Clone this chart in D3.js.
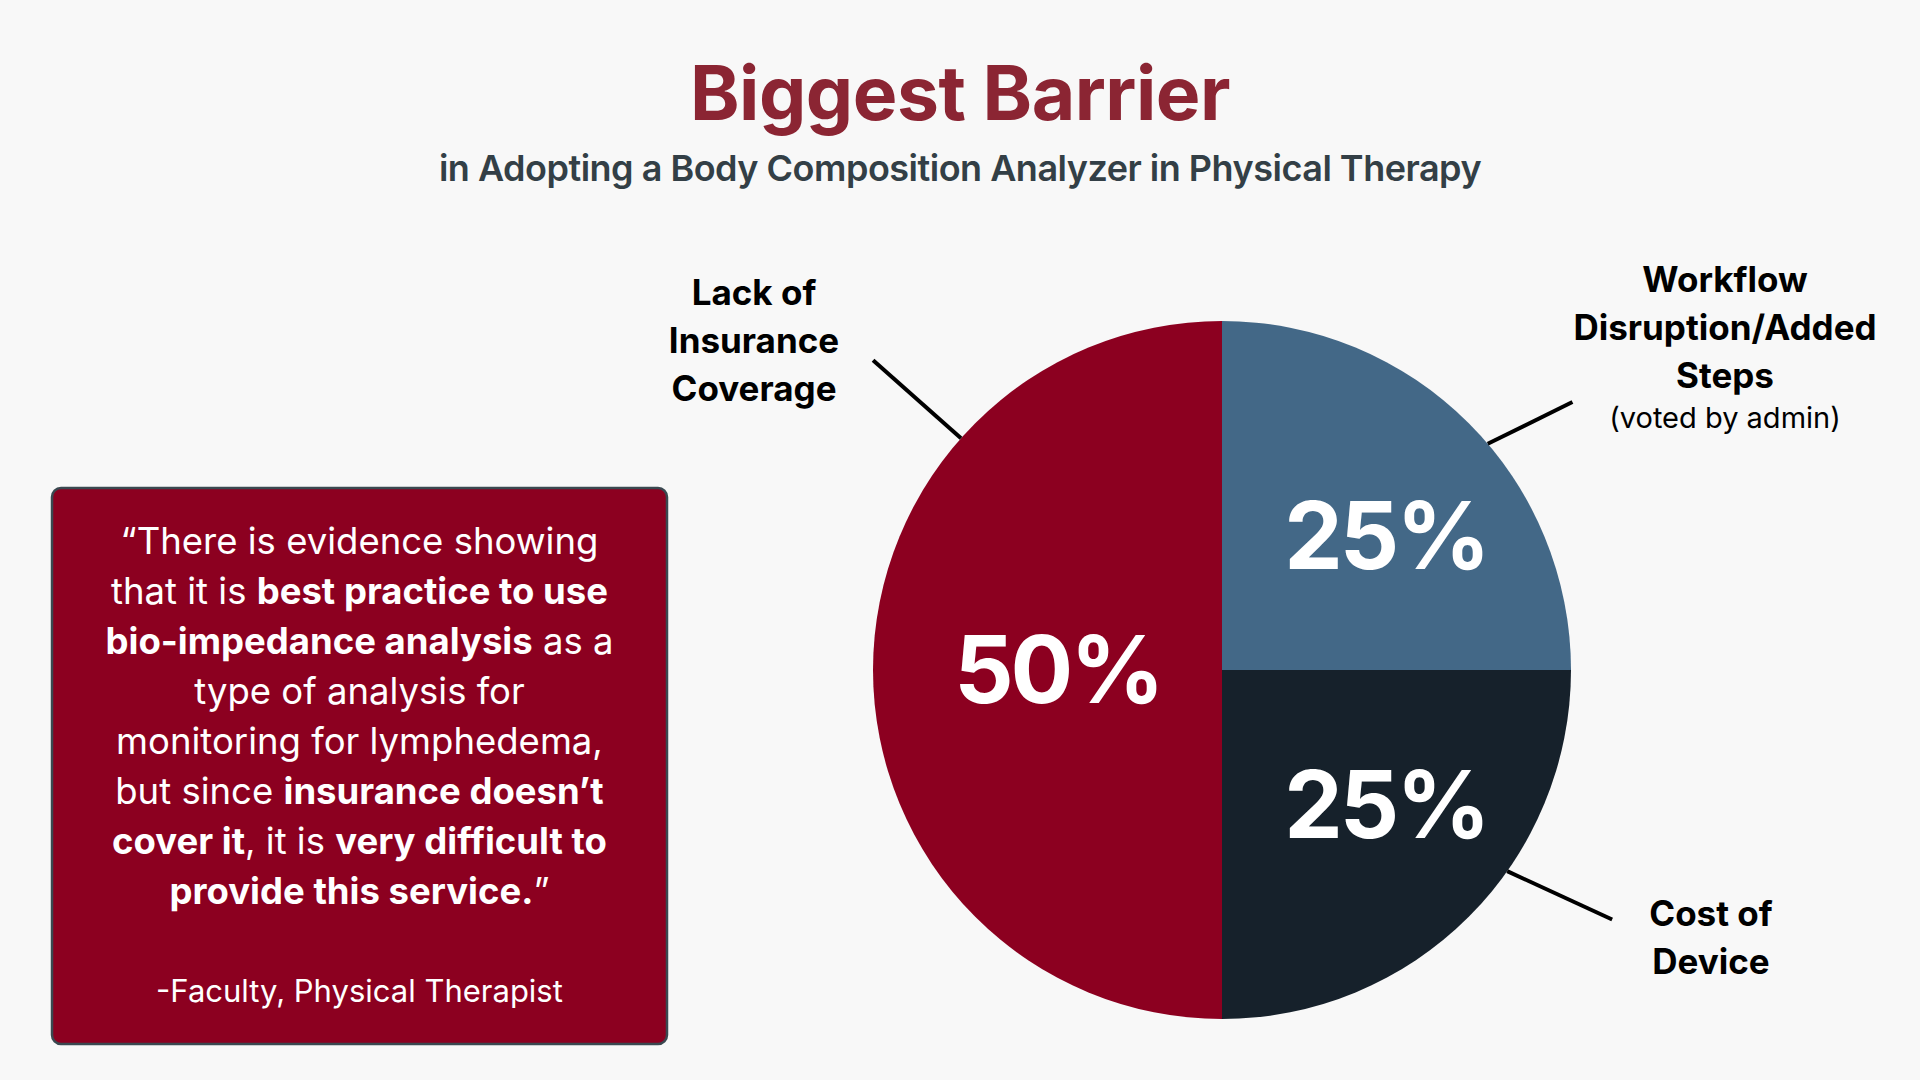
<!DOCTYPE html>
<html>
<head>
<meta charset="utf-8">
<script src="https://cdn.jsdelivr.net/npm/d3@7"></script>
<style>
  html, body { margin: 0; padding: 0; background: #f8f8f8; }
  svg { display: block; font-family: Inter, "Noto Sans", sans-serif; }
</style>
</head>
<body>
<svg id="chart" width="1920" height="1080"></svg>
<script>
// ---- data ----
const categories = ["Lack of Insurance Coverage", "Workflow Disruption/Added Steps", "Cost of Device"];
const values = [50, 25, 25];
const labelLines = [
  ["Lack of", "Insurance", "Coverage"],
  ["Workflow", "Disruption/Added", "Steps"],
  ["Cost of", "Device"]
];
const labelNotes = ["", "(voted by admin)", ""];
const titleText = "Biggest Barrier";
const subtitleText = "in Adopting a Body Composition Analyzer in Physical Therapy";
// quote lines: [text, bold?]
const quoteLines = [
  [["\u201CThere is evidence showing", false]],
  [["that it is ", false], ["best practice to use", true]],
  [["bio-impedance analysis", true], [" as a", false]],
  [["type of analysis for", false]],
  [["monitoring for lymphedema,", false]],
  [["but since ", false], ["insurance doesn\u2019t", true]],
  [["cover it", true], [", it is ", false], ["very difficult to", true]],
  [["provide this service.", true], ["\u201D", false]]
];
const quoteAuthor = "-Faculty, Physical Therapist";

// ---- styles / layout ----
const colors = ["#8c0020", "#436887", "#16212b"];
const W = 1920, H = 1080;
const cx = 1222, cy = 670, R = 349;
const svg = d3.select("#chart");

svg.append("rect").attr("width", W).attr("height", H).attr("fill", "#f8f8f8");

// title
svg.append("text").attr("x", 960).attr("y", 120).attr("text-anchor", "middle")
  .attr("font-size", 75).attr("font-weight", 700).attr("fill", "#8b2533")
  .attr("letter-spacing", -0.5)
  .text(titleText);
svg.append("text").attr("x", 960).attr("y", 181).attr("text-anchor", "middle")
  .attr("font-size", 36).attr("font-weight", 600).attr("fill", "#333f46")
  .attr("letter-spacing", -0.5)
  .text(subtitleText);

// pie
const pie = d3.pie().sort(null).value(d => d).startAngle(Math.PI).endAngle(3 * Math.PI);
const arcs = pie(values);
const arc = d3.arc().innerRadius(0).outerRadius(R);
const g = svg.append("g").attr("transform", `translate(${cx},${cy})`);
g.selectAll("path.slice").data(arcs).join("path")
  .attr("class", "slice")
  .attr("d", arc)
  .attr("fill", (d, i) => colors[i]);

// percent labels
const pctFont = 93;
g.selectAll("text.pct").data(arcs).join("text")
  .attr("class", "pct")
  .attr("text-anchor", "middle")
  .attr("font-size", pctFont).attr("font-weight", 700).attr("fill", "#ffffff")
  .attr("letter-spacing", -3)
  .attr("x", d => {
    const m = (d.startAngle + d.endAngle) / 2;
    return Math.sign(Math.round(Math.sin(m) * 1000)) * R * 0.47;
  })
  .attr("y", d => {
    const m = (d.startAngle + d.endAngle) / 2;
    return -Math.cos(m) * R * 0.545 + pctFont * 0.36;
  })
  .text(d => d.value + "%");

// leader lines: [start angle deg, end angle deg, end radius factor]
const leaders = [[311.6, 311.6, 1.337], [49.6, 52.6, 1.264], [125.2, 122.6, 1.327]];
const pt = (deg, r) => [Math.sin(deg * Math.PI / 180) * r, -Math.cos(deg * Math.PI / 180) * r];
g.selectAll("line.leader").data(leaders).join("line")
  .attr("class", "leader")
  .attr("x1", d => pt(d[0], R)[0]).attr("y1", d => pt(d[0], R)[1])
  .attr("x2", d => pt(d[1], R * d[2])[0]).attr("y2", d => pt(d[1], R * d[2])[1])
  .attr("stroke", "#000").attr("stroke-width", 4);

// category labels
const labelPos = [[754, 305], [1725, 292], [1711, 926]];
const lineH = 48;
labelLines.forEach((lines, i) => {
  const t = svg.append("text").attr("text-anchor", "middle")
    .attr("font-size", 35).attr("font-weight", 700).attr("fill", "#000");
  lines.forEach((ln, j) => {
    t.append("tspan").attr("x", labelPos[i][0]).attr("y", labelPos[i][1] + j * lineH).text(ln);
  });
  if (labelNotes[i]) {
    svg.append("text").attr("text-anchor", "middle")
      .attr("x", labelPos[i][0]).attr("y", labelPos[i][1] + lines.length * lineH - 8)
      .attr("font-size", 29).attr("font-weight", 400).attr("fill", "#000")
      .text(labelNotes[i]);
  }
});

// quote box
const box = { x: 52, y: 488, w: 615, h: 556 };
svg.append("rect").attr("x", box.x).attr("y", box.y).attr("width", box.w).attr("height", box.h)
  .attr("rx", 9).attr("fill", "#8c0020").attr("stroke", "#3a4850").attr("stroke-width", 2.5);
const qx = box.x + box.w / 2;
const qt = svg.append("text").attr("text-anchor", "middle")
  .attr("font-size", 36.5).attr("fill", "#ffffff");
quoteLines.forEach((parts, i) => {
  const line = qt.append("tspan").attr("x", qx).attr("y", 554 + i * 50);
  parts.forEach(([txt, b]) => {
    line.append("tspan").attr("font-weight", b ? 700 : 400).text(txt);
  });
});
svg.append("text").attr("text-anchor", "middle").attr("x", qx).attr("y", 1002)
  .attr("font-size", 31).attr("font-weight", 400).attr("fill", "#ffffff")
  .text(quoteAuthor);
</script>
</body>
</html>
